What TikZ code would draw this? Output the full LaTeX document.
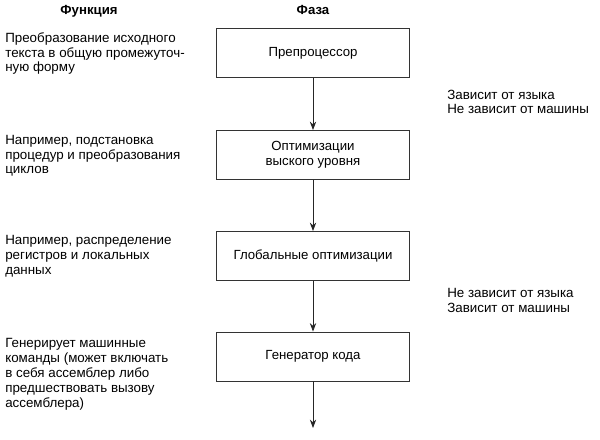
\documentclass[tikz,border=0pt]{standalone}
\usepackage{fontspec}
\setmainfont{Liberation Sans}
\usetikzlibrary{arrows.meta}
\tikzset{
  fazabox/.style={draw=black!80, line width=0.6pt, minimum width=4.825cm,
    minimum height=1.225cm, align=center, font=\fontsize{9.4}{10.6}\selectfont},
  opis/.style={anchor=base west, align=left, inner sep=0pt,
    font=\fontsize{9.5}{10.6}\selectfont},
  zagl/.style={anchor=base, inner sep=0pt, font=\fontsize{9.4}{10.6}\selectfont\bfseries},
  strelka/.style={draw=black!85, line width=0.6pt, -{Stealth[length=6pt,width=4.5pt]}},
}

\begin{document}
\begin{tikzpicture}[x=0.025cm, y=-0.025cm]
\useasboundingbox (0,0) rectangle (600,440);
\node[zagl] (h1) at (89,15) {Функция};
\node[zagl] (h2) at (313,15) {Фаза};
\node[fazabox] (f1) at (313,53) {Препроцессор};
\node[fazabox] (f2) at (313,155) {Оптимизации\\выского уровня};
\node[fazabox] (f3) at (313,256) {Глобальные оптимизации};
\node[fazabox] (f4) at (313,356.5) {Генератор кода};
\coordinate (end) at (313,428);
\node[opis] (o1) at (5,72) {Преобразование исходного\\текста в общую промежуточ-\\ную форму};
\node[opis] (o2) at (5,174) {Например, подстановка\\процедур и преобразования\\циклов};
\node[opis] (o3) at (5,274) {Например, распределение\\регистров и локальных\\данных};
\node[opis] (o4) at (5,407) {Генерирует машинные\\команды (может включать\\в себя ассемблер либо\\предшествовать вызову\\ассемблера)};
\node[opis] (z1) at (447,114) {Зависит от языка\\Не зависит от машины};
\node[opis] (z2) at (447,312) {Не зависит от языка\\Зависит от машины};
\draw[strelka] (f1) -- (f2);
\draw[strelka] (f2) -- (f3);
\draw[strelka] (f3) -- (f4);
\draw[strelka] (f4) -- (end);
\end{tikzpicture}
\end{document}
